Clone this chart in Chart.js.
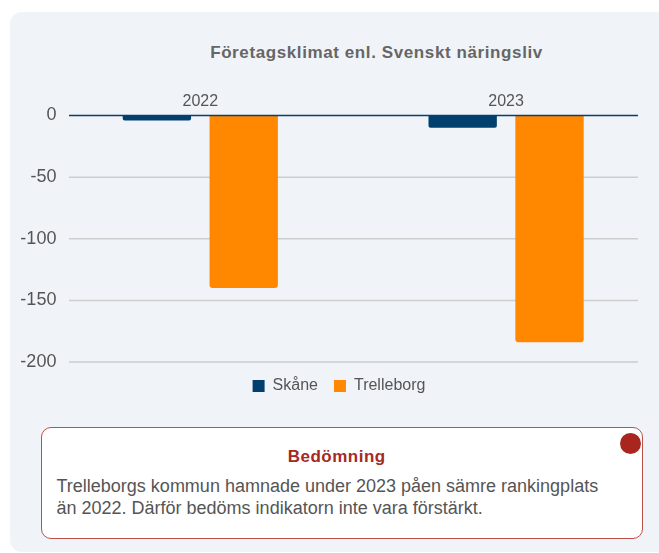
<!DOCTYPE html>
<html lang="sv">
<head>
<meta charset="utf-8">
<title>Företagsklimat enl. Svenskt näringsliv</title>
<script src="https://cdn.jsdelivr.net/npm/chart.js@4.4.1/dist/chart.umd.min.js"></script>
<style>
    html, body {
        margin: 0;
        padding: 0;
        background: #ffffff;
        width: 659px;
        height: 553px;
        overflow: hidden;
        font-family: "Liberation Sans", Arial, sans-serif;
    }
    .panel {
        position: absolute;
        left: 10px;
        top: 12px;
        width: 680px;
        height: 540px;
        background: #f0f4f8;
        border-radius: 12px;
    }
    .chart-title {
        position: absolute;
        left: 376.5px;
        top: 43px;
        transform: translateX(-50%);
        white-space: nowrap;
        font-size: 17px;
        line-height: 20px;
        font-weight: bold;
        letter-spacing: 0.6px;
        color: #666666;
    }
    .chart-wrap {
        position: absolute;
        left: 0;
        top: 0;
        width: 659px;
        height: 410px;
    }
    .assessment {
        position: absolute;
        left: 41px;
        top: 427px;
        width: 602px;
        height: 112px;
        box-sizing: border-box;
        background: #ffffff;
        border: 1.5px solid #bf5049;
        border-radius: 10px;
        padding: 17.5px 25px 0 14.5px;
    }
    .assessment h3 {
        margin: 0;
        text-align: center;
        font-size: 17px;
        line-height: 22px;
        letter-spacing: 0.5px;
        color: #a52a1f;
    }
    .assessment p {
        margin: 7px 0 0 0;
        font-size: 18px;
        line-height: 22.5px;
        color: #555555;
    }
    .dot {
        position: absolute;
        right: 1px;
        top: 5px;
        width: 21px;
        height: 21px;
        border-radius: 50%;
        background: #a8261e;
    }
</style>
</head>
<body>
<div class="panel"></div>
<div class="chart-title">Företagsklimat enl. Svenskt näringsliv</div>
<div class="chart-wrap"><canvas id="climateChart" width="659" height="410"></canvas></div>
<div class="assessment">
    <span class="dot"></span>
    <h3>Bedömning</h3>
    <p>Trelleborgs kommun hamnade under 2023 påen sämre rankingplats<br>än 2022. Därför bedöms indikatorn inte vara förstärkt.</p>
</div>
<script>
const years = ['2022', '2023'];
const seriesNames = ['Skåne', 'Trelleborg'];
const skaneValues = [-4, -10];
const trelleborgValues = [-140, -184];

// grid lines are shorter than the category band in the original, so draw them by hand
const gridPlugin = {
    id: 'shortGrid',
    afterLayout(chart) {
        // y labels sit a bit to the right of the band start, widen the label clip box
        chart.scales.y.right = chart.chartArea.left + 9.6;
    },
    beforeDatasetsDraw(chart) {
        const ctx = chart.ctx;
        const y = chart.scales.y;
        ctx.save();
        ctx.strokeStyle = '#cdcdcd';
        ctx.lineWidth = 1.5;
        y.ticks.forEach(t => {
            if (t.value === 0) return;
            const py = y.getPixelForValue(t.value);
            ctx.beginPath();
            ctx.moveTo(69, py);
            ctx.lineTo(638, py);
            ctx.stroke();
        });
        ctx.restore();
    },
    afterDatasetsDraw(chart) {
        const ctx = chart.ctx;
        const py = chart.scales.y.getPixelForValue(0);
        ctx.save();
        ctx.strokeStyle = '#0d3c6b';
        ctx.lineWidth = 1.5;
        ctx.beginPath();
        ctx.moveTo(69, py);
        ctx.lineTo(638, py);
        ctx.stroke();
        ctx.restore();
    }
};

const ctx = document.getElementById('climateChart').getContext('2d');
const climateChart = new Chart(ctx, {
    type: 'bar',
    data: {
        labels: years,
        datasets: [{
            label: seriesNames[0],
            data: skaneValues,
            backgroundColor: '#003f6e',
            borderRadius: 2,
            barPercentage: 0.787,
            categoryPercentage: 0.568
        }, {
            label: seriesNames[1],
            data: trelleborgValues,
            backgroundColor: '#ff8800',
            borderRadius: 3,
            barPercentage: 0.787,
            categoryPercentage: 0.568
        }]
    },
    options: {
        responsive: false,
        animation: false,
        layout: {
            padding: { left: 19, right: 0, top: 85.5, bottom: 6 }
        },
        plugins: {
            title: { display: false },
            tooltip: { enabled: false },
            legend: {
                position: 'bottom',
                labels: {
                    boxWidth: 12,
                    boxHeight: 12,
                    padding: 16,
                    color: '#555555',
                    font: { family: '"Liberation Sans", Arial, sans-serif', size: 16 }
                }
            }
        },
        scales: {
            x: {
                position: 'top',
                grid: { display: false, drawTicks: false },
                border: { display: false },
                ticks: {
                    padding: 4,
                    color: '#555555',
                    font: { family: '"Liberation Sans", Arial, sans-serif', size: 16 }
                },
                afterFit: scale => { scale.height = 30; }
            },
            y: {
                min: -200,
                max: 0,
                grid: { display: false, drawTicks: false },
                border: { display: false },
                ticks: {
                    stepSize: 50,
                    padding: 0.6,
                    color: '#555555',
                    font: { family: '"Liberation Sans", Arial, sans-serif', size: 18 }
                },
                afterFit: scale => { scale.width = 28.4; }
            }
        }
    },
    plugins: [gridPlugin]
});
</script>
</body>
</html>
